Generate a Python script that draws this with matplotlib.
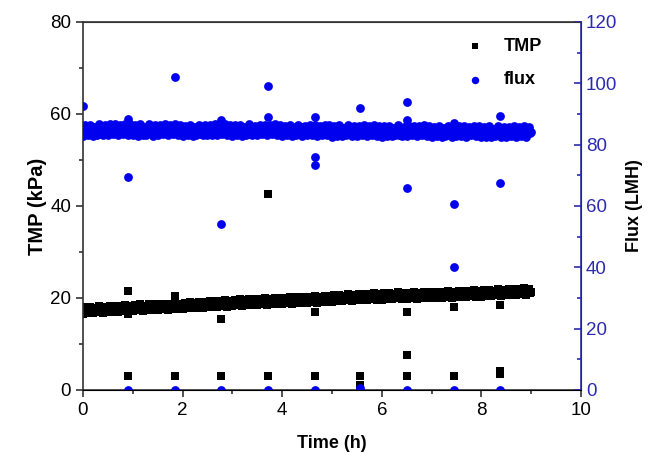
import numpy as np
import matplotlib
matplotlib.use("Agg")
import matplotlib.pyplot as plt

plt.rcParams['font.family'] = ['Liberation Sans', 'DejaVu Sans']

# logging grid, every 0.025 h from 0 to 9 h
time_h = np.round(np.arange(0, 9.0001, 0.025), 3)

# TMP (kPa), one row per hour (40 readings each)
tmp = [
    16.6, 17.4, 18.0, 17.1, 16.8, 17.6, 18.1, 17.3, 16.7, 17.9, 17.2, 16.9, 17.7, 18.2, 17.0, 17.5, 16.8, 17.8, 18.1, 17.4,
    16.9, 17.6, 18.2, 17.2, 17.0, 17.9, 18.3, 17.5, 16.9, 17.7, 18.2, 17.3, 17.1, 18.0, 18.4, 17.6, 17.0, 17.8, 18.3, 17.4,
    17.1, 17.9, 18.5, 17.6, 17.3, 18.1, 18.6, 17.8, 17.2, 18.3, 17.7, 17.4, 18.2, 18.7, 17.5, 18.0, 17.3, 18.3, 18.6, 17.9,
    17.4, 18.1, 18.7, 17.7, 17.5, 18.4, 18.8, 18.0, 17.4, 18.2, 18.7, 17.8, 17.6, 18.5, 18.9, 18.1, 17.5, 18.3, 18.8, 17.9,
    17.6, 18.4, 19.0, 18.1, 17.8, 18.6, 19.1, 18.3, 17.8, 18.9, 18.2, 17.9, 18.7, 19.2, 18.1, 18.6, 17.9, 18.9, 19.2, 18.5,
    18.0, 18.7, 19.3, 18.3, 18.1, 19.0, 19.4, 18.6, 18.0, 18.8, 19.3, 18.4, 18.2, 19.1, 19.5, 18.7, 18.1, 18.9, 19.4, 18.5,
    18.2, 19.0, 19.6, 18.7, 18.4, 19.2, 19.7, 18.9, 18.3, 19.5, 18.8, 18.5, 19.3, 19.8, 18.6, 19.1, 18.4, 19.4, 19.7, 19.0,
    18.5, 19.2, 19.8, 18.8, 18.6, 19.5, 19.9, 19.1, 18.5, 19.3, 19.8, 18.9, 18.7, 19.6, 20.0, 19.2, 18.6, 19.4, 19.9, 19.0,
    18.7, 19.5, 20.1, 19.2, 18.9, 19.7, 20.2, 19.4, 18.8, 20.0, 19.3, 19.0, 19.8, 20.3, 19.1, 19.6, 18.9, 19.9, 20.2, 19.5,
    19.0, 19.7, 20.3, 19.3, 19.1, 20.0, 20.4, 19.6, 19.0, 19.8, 20.3, 19.4, 19.2, 20.1, 20.5, 19.7, 19.1, 19.9, 20.4, 19.5,
    19.2, 20.0, 20.6, 19.7, 19.4, 20.2, 20.7, 19.9, 19.3, 20.5, 19.8, 19.5, 20.3, 20.8, 19.6, 20.1, 19.4, 20.4, 20.7, 20.0,
    19.5, 20.2, 20.8, 19.8, 19.6, 20.5, 20.9, 20.1, 19.5, 20.3, 20.8, 19.9, 19.7, 20.6, 21.0, 20.2, 19.6, 20.4, 20.9, 20.0,
    19.6, 20.4, 21.0, 20.1, 19.8, 20.6, 21.1, 20.3, 19.7, 20.9, 20.2, 19.9, 20.7, 21.2, 20.0, 20.5, 19.8, 20.8, 21.1, 20.4,
    19.8, 20.5, 21.1, 20.1, 19.9, 20.8, 21.2, 20.4, 19.8, 20.6, 21.1, 20.2, 20.0, 20.9, 21.3, 20.5, 19.9, 20.7, 21.2, 20.3,
    19.9, 20.7, 21.3, 20.4, 20.1, 20.9, 21.4, 20.6, 20.0, 21.2, 20.5, 20.2, 21.0, 21.5, 20.3, 20.8, 20.1, 21.1, 21.4, 20.7,
    20.2, 20.9, 21.5, 20.5, 20.3, 21.2, 21.6, 20.8, 20.2, 21.0, 21.5, 20.6, 20.4, 21.3, 21.7, 20.9, 20.3, 21.1, 21.6, 20.7,
    20.3, 21.1, 21.7, 20.8, 20.5, 21.3, 21.8, 21.0, 20.4, 21.6, 20.9, 20.6, 21.4, 21.9, 20.7, 21.2, 20.5, 21.5, 21.8, 21.1,
    20.6, 21.3, 21.9, 20.9, 20.7, 21.6, 22.0, 21.2, 20.6, 21.4, 21.9, 21.0, 20.8, 21.7, 22.1, 21.3, 20.7, 21.5, 22.0, 21.1,
    21.4,
]

# flux (LMH) on the same grid
flux = [
    82.7, 84.6, 86.3, 83.9, 83.1, 85.4, 86.5, 84.3, 82.9, 85.9, 84.1, 83.3, 85.6, 86.6, 83.6, 84.9, 83.0, 85.8, 86.4, 84.5,
    83.2, 85.1, 86.6, 83.8, 83.4, 85.7, 86.7, 84.7, 83.1, 85.3, 86.5, 84.2, 83.5, 86.0, 86.8, 84.8, 83.3, 85.6, 86.6, 84.4,
    83.0, 84.9, 86.4, 84.1, 82.8, 85.2, 86.6, 84.5, 83.2, 85.8, 84.0, 83.1, 85.5, 86.7, 83.7, 85.0, 82.9, 85.9, 86.3, 84.6,
    83.3, 85.0, 86.5, 83.9, 83.5, 85.6, 86.6, 84.8, 83.0, 85.4, 86.4, 84.1, 83.6, 85.9, 86.7, 84.7, 83.2, 85.5, 86.5, 84.3,
    82.8, 84.7, 86.2, 84.0, 83.0, 85.3, 86.4, 84.4, 82.9, 85.7, 84.2, 83.2, 85.5, 86.5, 83.5, 84.8, 83.1, 85.7, 86.3, 84.4,
    83.1, 85.0, 86.5, 83.7, 83.3, 85.6, 86.6, 84.6, 83.0, 85.2, 86.4, 84.1, 83.4, 85.9, 86.7, 84.7, 83.2, 85.5, 86.5, 84.3,
    82.9, 84.8, 86.3, 83.8, 83.1, 85.2, 86.5, 84.2, 82.8, 85.8, 84.0, 83.3, 85.4, 86.6, 83.6, 84.7, 83.0, 85.8, 86.2, 84.5,
    83.0, 84.9, 86.4, 83.9, 83.4, 85.5, 86.5, 84.7, 83.1, 85.3, 86.3, 84.0, 83.5, 85.8, 86.6, 84.6, 83.1, 85.4, 86.4, 84.2,
    82.7, 84.6, 86.2, 83.9, 83.0, 85.1, 86.4, 84.3, 82.9, 85.6, 84.1, 83.2, 85.3, 86.5, 83.5, 84.8, 82.9, 85.6, 86.1, 84.3,
    83.0, 84.8, 86.3, 83.8, 83.2, 85.4, 86.4, 84.5, 82.9, 85.2, 86.2, 84.0, 83.3, 85.7, 86.5, 84.5, 83.0, 85.3, 86.3, 84.1,
    82.6, 84.5, 86.1, 83.8, 82.9, 85.0, 86.3, 84.2, 82.8, 85.5, 84.0, 83.1, 85.2, 86.4, 83.4, 84.7, 82.8, 85.5, 86.0, 84.2,
    82.9, 84.7, 86.2, 83.7, 83.1, 85.3, 86.3, 84.4, 82.8, 85.1, 86.1, 83.9, 83.2, 85.6, 86.4, 84.4, 82.9, 85.2, 86.2, 84.0,
    82.6, 84.4, 86.0, 83.7, 82.8, 84.9, 86.2, 84.1, 82.7, 85.4, 83.9, 83.0, 85.1, 86.3, 83.3, 84.6, 82.7, 85.4, 85.9, 84.1,
    82.8, 84.6, 86.1, 83.6, 83.0, 85.2, 86.2, 84.3, 82.7, 85.0, 86.0, 83.8, 83.1, 85.5, 86.3, 84.3, 82.8, 85.1, 86.1, 83.9,
    82.5, 84.3, 85.9, 83.6, 82.7, 84.8, 86.1, 84.0, 82.6, 85.3, 83.8, 82.9, 85.0, 86.2, 83.2, 84.5, 82.6, 85.3, 85.8, 84.0,
    82.7, 84.5, 86.0, 83.5, 82.9, 85.1, 86.1, 84.2, 82.6, 84.9, 85.9, 83.7, 83.0, 85.4, 86.2, 84.2, 82.7, 85.0, 86.0, 83.8,
    82.5, 84.2, 85.8, 83.5, 82.6, 84.7, 86.0, 83.9, 82.5, 85.2, 83.7, 82.8, 84.9, 86.1, 83.1, 84.4, 82.5, 85.2, 85.7, 83.9,
    82.6, 84.4, 85.9, 83.4, 82.8, 85.0, 86.0, 84.1, 82.5, 84.8, 85.8, 83.6, 82.9, 85.3, 86.1, 84.1, 82.6, 84.9, 85.9, 83.7,
    84.0,
]

# points around the backwash events (~every 0.93 h)
tmp_evt_t = [0.91, 0.91, 0.91, 1.84, 1.84, 2.77, 2.77, 3.71, 3.71, 4.65, 4.65, 5.57, 5.57,
             6.51, 6.51, 6.51, 7.45, 7.45, 8.37, 8.37, 8.37]
tmp_evt_v = [3.0, 21.5, 16.5, 3.0, 20.5, 3.0, 15.5, 3.0, 42.5, 3.0, 17.0, 3.0, 1.0,
             3.0, 7.5, 17.0, 3.0, 18.0, 3.5, 4.2, 18.5]

flux_evt_t = [0.0, 0.91, 0.91, 0.91, 1.84, 1.84, 2.77, 2.77, 2.77, 3.71, 3.71, 3.71,
              4.65, 4.65, 4.65, 4.65, 5.57, 5.57, 6.51, 6.51, 6.51, 6.51,
              7.45, 7.45, 7.45, 7.45, 8.37, 8.37, 8.37]
flux_evt_v = [92.5, 0.0, 69.5, 88.5, 0.0, 102.0, 0.0, 54.0, 88.0, 0.0, 99.0, 89.0,
              0.0, 89.0, 76.0, 73.5, 0.5, 92.0, 0.0, 94.0, 65.7, 88.0,
              0.0, 60.5, 40.2, 87.0, 0.0, 67.5, 89.5]

blue = '#0000ee'
axis_blue = '#2b2bb0'

fig = plt.figure(figsize=(6.57, 4.53), dpi=100)
ax = fig.add_axes([0.1263, 0.1391, 0.758, 0.8124])
ax2 = ax.twinx()

ax.scatter(time_h, tmp, marker='s', s=34, color='black', linewidths=0, label='TMP')
ax.scatter(tmp_evt_t, tmp_evt_v, marker='s', s=34, color='black', linewidths=0)
ax2.scatter(time_h, flux, marker='o', s=40, color=blue, linewidths=0, label='flux')
ax2.scatter(flux_evt_t, flux_evt_v, marker='o', s=40, color=blue, linewidths=0)

ax.set_xlim(0, 10)
ax.set_ylim(0, 80)
ax2.set_ylim(0, 120)
ax.set_xticks(np.arange(0, 11, 2))
ax.set_xticks(np.arange(1, 10, 2), minor=True)
ax.set_yticks(np.arange(0, 81, 20))
ax.set_yticks(np.arange(10, 80, 20), minor=True)
ax2.set_yticks(np.arange(0, 121, 20))
ax2.set_yticks(np.arange(10, 120, 20), minor=True)

ax.tick_params(axis='both', which='major', direction='out', length=5, width=1.2,
               labelsize=13.5, colors='#333333', labelcolor='black')
ax.tick_params(axis='both', which='minor', direction='out', length=3, width=1.2, colors='#333333')
ax2.tick_params(axis='y', which='major', direction='in', length=5, width=1.2,
                labelsize=13.5, colors=axis_blue)
ax2.tick_params(axis='y', which='minor', direction='in', length=3, width=1.2, colors=axis_blue)

for s in ['left', 'bottom', 'top']:
    ax.spines[s].set_color('#333333')
    ax.spines[s].set_linewidth(1.2)
ax2.spines['right'].set_color(axis_blue)
ax2.spines['right'].set_linewidth(1.2)
ax2.spines['left'].set_visible(False)
ax2.spines['top'].set_color('#333333')

ax.set_xlabel('Time (h)', fontsize=13, fontweight='bold', labelpad=12)
ax.set_ylabel('TMP (kPa)', fontsize=14.5, fontweight='bold', labelpad=2)
ax2.set_ylabel('Flux (LMH)', fontsize=13, fontweight='bold', labelpad=6)

h1, l1 = ax.get_legend_handles_labels()
h2, l2 = ax2.get_legend_handles_labels()
ax2.legend(h1 + h2, l1 + l2, loc='upper right', bbox_to_anchor=(0.955, 1.0), frameon=False,
           prop={'size': 13, 'weight': 'bold'}, handletextpad=0.6, labelspacing=0.9,
           scatterpoints=1, markerscale=0.85)

fig.savefig('out.png', dpi=100)
